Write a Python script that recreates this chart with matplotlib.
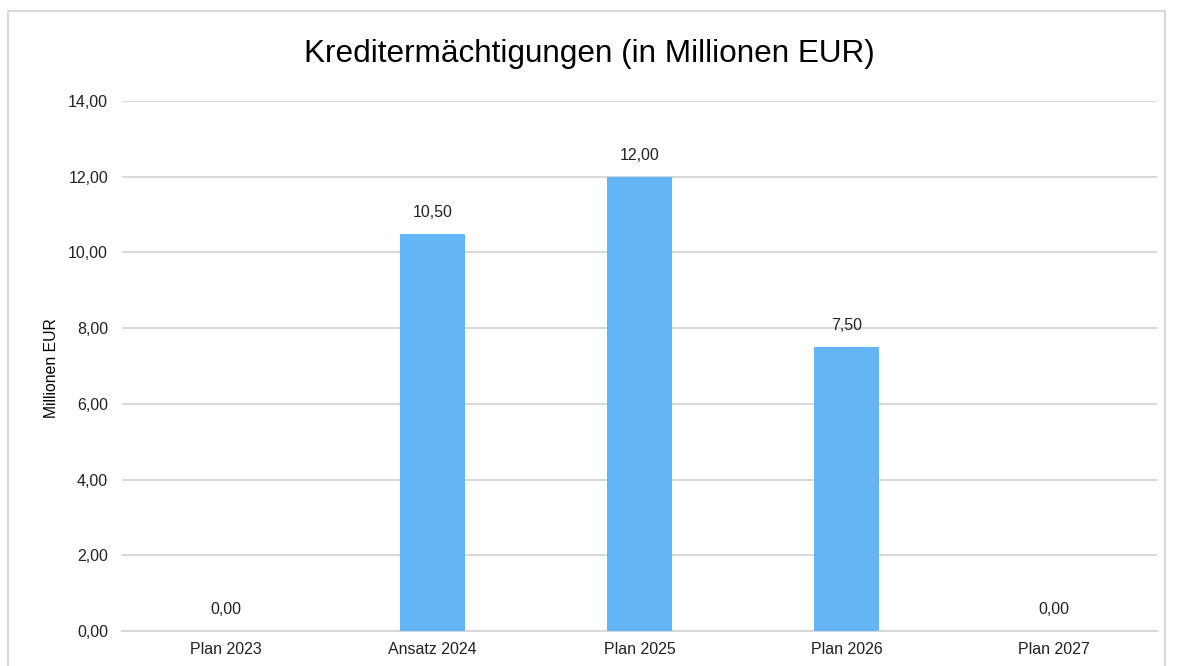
import matplotlib
matplotlib.use("Agg")
import matplotlib.pyplot as plt
from matplotlib.patches import Rectangle
from matplotlib.ticker import FuncFormatter

plt.rcParams['font.family'] = ['Liberation Sans', 'DejaVu Sans']

categories = ["Plan 2023", "Ansatz 2024", "Plan 2025", "Plan 2026", "Plan 2027"]
values = [0.0, 10.5, 12.0, 7.5, 0.0]
y_ticks = [0, 2, 4, 6, 8, 10, 12, 14]
title = "Kreditermächtigungen (in Millionen EUR)"
y_label = "Millionen EUR"

def de_fmt(v):
    return f"{v:.2f}".replace(".", ",")

W, H = 1179, 666
fig = plt.figure(figsize=(W / 100, H / 100), dpi=100)
fig.patches.append(Rectangle((8/W, -0.01), (1165-8)/W, 1 - 11/H + 0.01,
                             transform=fig.transFigure, fill=False,
                             edgecolor="#D9D9D9", linewidth=1.5))
ax = fig.add_axes([122/W, 1-631/H, (1157-122)/W, (631-101)/H])

x = list(range(len(categories)))
ax.bar(x, values, width=0.314, color="#64B5F6", zorder=3)
for xi, v in zip(x, values):
    ax.annotate(de_fmt(v), (xi, v), xytext=(0, 10), textcoords="offset points",
                ha="center", va="bottom", fontsize=11.5, color="#222222")

ax.set_xlim(-0.5, len(categories) - 0.5)
ax.set_ylim(0, 14)
ax.set_yticks(y_ticks)
ax.yaxis.set_major_formatter(FuncFormatter(lambda v, p: de_fmt(v)))
ax.set_xticks(x)
ax.set_xticklabels(categories)
ax.grid(axis="y", color="#D9D9D9", linewidth=1.5, zorder=0)
ax.set_axisbelow(True)
for s in ["top", "right", "left"]:
    ax.spines[s].set_visible(False)
ax.spines["bottom"].set_color("#D9D9D9")
ax.spines["bottom"].set_linewidth(1.5)
ax.tick_params(axis="both", length=0, labelsize=11.5, labelcolor="#222222")
ax.tick_params(axis="y", pad=10)
ax.tick_params(axis="x", pad=8)
fig.text(51/W, 1 - 368/H, y_label, rotation=90, ha="center", va="center",
         fontsize=11.3, color="#000000")
fig.text(0.5, 1 - 62/H, title, ha="center", va="baseline", fontsize=22.7, color="#000000")

fig.savefig("out.png", dpi=100)
